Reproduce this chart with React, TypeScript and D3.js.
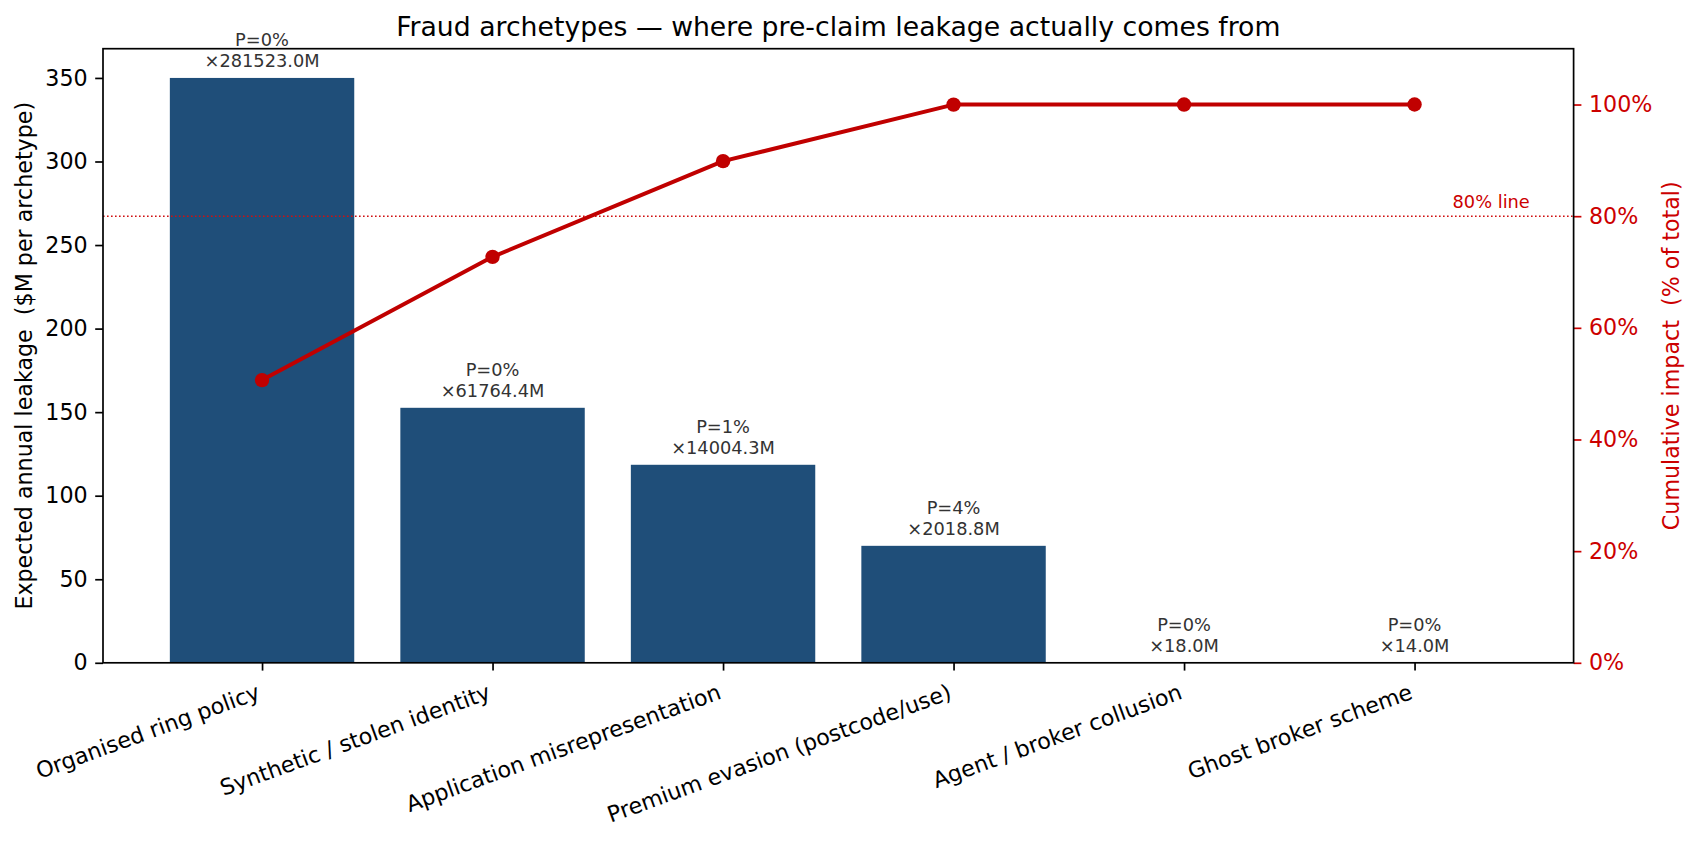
import { useRef, useEffect } from "react";
import * as d3 from "d3";

// Fraud archetypes, sorted by expected annual leakage ($M)
const categories = [
  "Organised ring policy",
  "Synthetic / stolen identity",
  "Application misrepresentation",
  "Premium evasion (postcode/use)",
  "Agent / broker collusion",
  "Ghost broker scheme",
];
const leakage = [350, 152.6, 118.5, 70.0, 0.05, 0.03];
const probLabels = ["P=0%", "P=0%", "P=1%", "P=4%", "P=0%", "P=0%"];
const impactLabels = ["×281523.0M", "×61764.4M", "×14004.3M", "×2018.8M", "×18.0M", "×14.0M"];
const leftTicks = [0, 50, 100, 150, 200, 250, 300, 350];
const rightTicks = [0, 20, 40, 60, 80, 100];
const threshold = 80;

const W = 1698;
const H = 850;
const FONT = "DejaVu Sans";
const BAR = "#1f4e79";
const RED = "#c00000";
const RED_TXT = "#cc0000";
const FS = 22.2;      // tick + axis label size
const FS_SMALL = 17.8; // annotations
const TICK = 7.8;

export default function App() {
  const svgRef = useRef<SVGSVGElement>(null);

  useEffect(() => {
    if (!svgRef.current) return;
    const svg = d3.select(svgRef.current);
    svg.selectAll("*").remove();

    const m = { top: 48.7, right: W - 1573.6, bottom: H - 662.8, left: 103 };
    const x = d3.scaleLinear().domain([-0.69, categories.length - 1 + 0.69]).range([m.left, W - m.right]);
    const yL = d3.scaleLinear().domain([0, 367.5]).range([H - m.bottom, m.top]);
    const yR = d3.scaleLinear().domain([0, 110]).range([H - m.bottom, m.top]);

    const total = d3.sum(leakage);
    const cum = Array.from(d3.cumsum(leakage), v => (v / total) * 100);
    const bw = x(0.8) - x(0);

    svg.append("rect").attr("width", W).attr("height", H).attr("fill", "#fff");

    // Bars
    svg.selectAll(".bar").data(leakage).enter().append("rect")
      .attr("x", (_, i) => x(i) - bw / 2).attr("width", bw)
      .attr("y", d => yL(d)).attr("height", d => yL(0) - yL(d))
      .attr("fill", BAR);

    // Bar annotations
    const lab = svg.selectAll(".lab").data(leakage).enter().append("text")
      .attr("font-family", FONT).attr("font-size", FS_SMALL).attr("fill", "#333")
      .attr("text-anchor", "middle");
    lab.append("tspan").attr("x", (_, i) => x(i)).attr("y", d => yL(d) - 10.8 - 21.3).text((_, i) => probLabels[i]);
    lab.append("tspan").attr("x", (_, i) => x(i)).attr("y", d => yL(d) - 10.8).text((_, i) => impactLabels[i]);

    // Left axis
    const gl = svg.append("g").attr("transform", `translate(${m.left},0)`)
      .call(d3.axisLeft(yL).tickValues(leftTicks).tickSize(TICK).tickPadding(7.5))
      .call(g => { g.select(".domain").remove(); });
    gl.selectAll("line").attr("stroke", "#000").attr("stroke-width", 1.7);
    gl.selectAll("text").attr("font-family", FONT).attr("font-size", FS).attr("fill", "#000");

    // Right axis
    const gr = svg.append("g").attr("transform", `translate(${W - m.right},0)`)
      .call(d3.axisRight(yR).tickValues(rightTicks).tickFormat(d => `${d}%`).tickSize(TICK).tickPadding(7.5))
      .call(g => { g.select(".domain").remove(); });
    gr.selectAll("line").attr("stroke", RED_TXT).attr("stroke-width", 1.7);
    gr.selectAll("text").attr("font-family", FONT).attr("font-size", FS).attr("fill", RED_TXT);

    // Bottom axis
    const gb = svg.append("g").attr("transform", `translate(0,${H - m.bottom})`)
      .call(d3.axisBottom(x).tickValues(d3.range(categories.length)).tickSize(TICK).tickFormat(() => ""))
      .call(g => { g.select(".domain").remove(); });
    gb.selectAll("line").attr("stroke", "#000").attr("stroke-width", 1.7);
    svg.append("g").selectAll("text").data(categories).enter().append("text")
      .attr("transform", (_, i) => `translate(${x(i) - 0.6},${H - m.bottom + 35.5}) rotate(-20)`)
      .attr("text-anchor", "end").attr("font-family", FONT).attr("font-size", FS).attr("fill", "#000")
      .text(d => d);

    // 80% reference line
    svg.append("line")
      .attr("x1", m.left).attr("x2", W - m.right)
      .attr("y1", yR(threshold)).attr("y2", yR(threshold))
      .attr("stroke", "#d01010").attr("stroke-width", 1.4).attr("stroke-dasharray", "1.6,2.4");
    svg.append("text")
      .attr("x", x(5.5)).attr("y", yR(threshold) - 8)
      .attr("text-anchor", "end").attr("font-family", FONT).attr("font-size", FS_SMALL).attr("fill", RED_TXT)
      .text("80% line");

    // Cumulative line
    const line = d3.line<number>().x((_, i) => x(i)).y(d => yR(d));
    svg.append("path").datum(cum)
      .attr("fill", "none").attr("stroke", RED).attr("stroke-width", 4).attr("stroke-linejoin", "round")
      .attr("d", line);
    svg.selectAll(".dot").data(cum).enter().append("circle")
      .attr("cx", (_, i) => x(i)).attr("cy", d => yR(d)).attr("r", 7.2).attr("fill", RED);

    // Frame
    svg.append("rect")
      .attr("x", m.left).attr("y", m.top)
      .attr("width", W - m.right - m.left).attr("height", H - m.bottom - m.top)
      .attr("fill", "none").attr("stroke", "#000").attr("stroke-width", 1.7);

    // Axis titles
    svg.append("text")
      .attr("transform", `translate(24,${(m.top + H - m.bottom) / 2}) rotate(-90)`)
      .attr("dy", "0.35em").attr("text-anchor", "middle").style("white-space", "pre")
      .attr("font-family", FONT).attr("font-size", FS).attr("fill", "#000")
      .text("Expected annual leakage  ($M per archetype)");
    svg.append("text")
      .attr("transform", `translate(1671,${(m.top + H - m.bottom) / 2}) rotate(-90)`)
      .attr("dy", "0.35em").attr("text-anchor", "middle").style("white-space", "pre")
      .attr("font-family", FONT).attr("font-size", FS).attr("fill", RED_TXT)
      .text("Cumulative impact  (% of total)");

    // Title
    svg.append("text")
      .attr("x", (m.left + W - m.right) / 2).attr("y", 36)
      .attr("text-anchor", "middle").attr("font-family", FONT).attr("font-size", 26.7).attr("fill", "#000")
      .text("Fraud archetypes — where pre-claim leakage actually comes from");
  }, []);

  return (
    <svg ref={svgRef} width={W} height={H} style={{ position: "absolute", left: 0, top: 0 }} />
  );
}
